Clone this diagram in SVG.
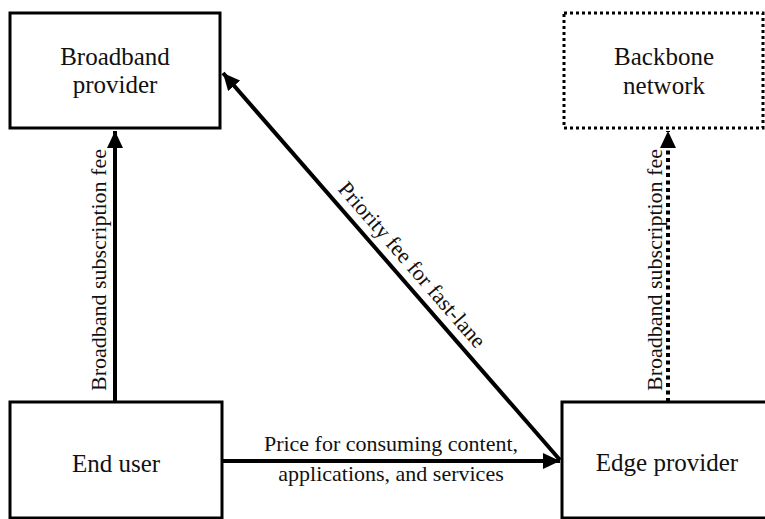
<svg xmlns="http://www.w3.org/2000/svg" width="765" height="519" viewBox="0 0 765 519">
<style>
.box{fill:#fff;stroke:#000;stroke-width:3}
.dotbox{fill:#fff;stroke:#000;stroke-width:3;stroke-dasharray:3 3}
.nt{font-family:"Liberation Serif","Times New Roman",serif;font-size:25px;fill:#111;text-anchor:middle}
.et{font-family:"Liberation Serif","Times New Roman",serif;font-size:22px;fill:#111;text-anchor:middle}
.ln{stroke:#000;stroke-width:4;fill:none}
.dl{stroke:#000;stroke-width:4;fill:none;stroke-dasharray:4 3.5}
</style>
<defs>
<marker id="ah" markerUnits="userSpaceOnUse" markerWidth="18" markerHeight="16" refX="17" refY="8" orient="auto">
<path d="M0,0 L17,8 L0,16 Z" fill="#000"/>
</marker>
</defs>
<rect width="765" height="519" fill="#fff"/>
<g id="connectors">
<line class="ln" x1="115" y1="402" x2="115" y2="131" marker-end="url(#ah)"/>
<line class="dl" x1="668" y1="402" x2="668" y2="131" marker-end="url(#ah)"/>
<line class="ln" x1="560" y1="460" x2="223" y2="73" marker-end="url(#ah)"/>
<line class="ln" x1="222" y1="461" x2="560" y2="461" marker-end="url(#ah)"/>
<text class="et" transform="translate(106,270) rotate(-90)">Broadband subscription fee</text>
<text class="et" transform="translate(662,270) rotate(-90)">Broadband subscription fee</text>
<text class="et" transform="translate(399,276) rotate(49) translate(0,-10)">Priority fee for fast-lane</text>
<text class="et" x="391" y="451">Price for consuming content,</text>
<text class="et" x="391" y="481">applications, and services</text>
</g>
<g id="broadband">
<rect class="box" x="10" y="13" width="210" height="115"/>
<text class="nt" x="115" y="65">Broadband</text>
<text class="nt" x="115" y="93">provider</text>
</g>
<g id="backbone">
<rect class="dotbox" x="564" y="13" width="199" height="115"/>
<text class="nt" x="664" y="65">Backbone</text>
<text class="nt" x="664" y="94">network</text>
</g>
<g id="enduser">
<rect class="box" x="10" y="402" width="212" height="116"/>
<text class="nt" x="116" y="472">End user</text>
</g>
<g id="edge">
<rect class="box" x="562" y="402" width="205" height="116"/>
<text class="nt" x="667" y="471">Edge provider</text>
</g>
</svg>
